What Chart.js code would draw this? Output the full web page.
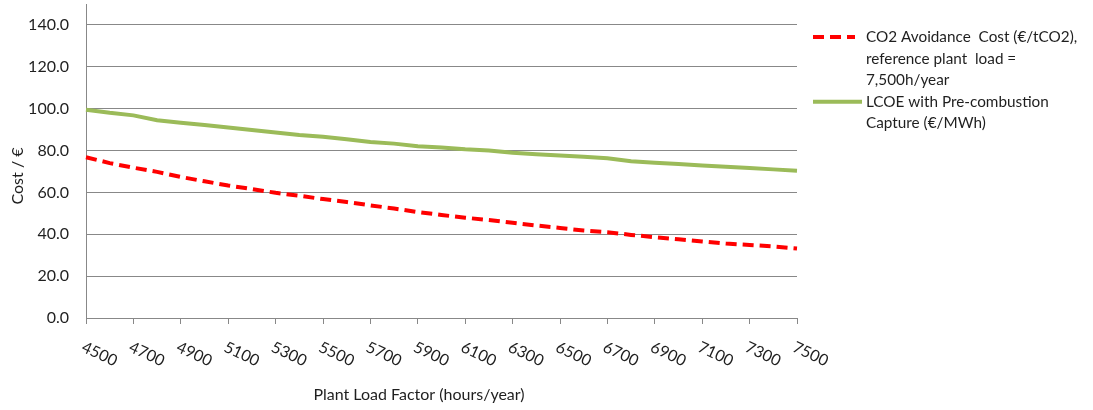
<!DOCTYPE html>
<html>
<head>
<meta charset="utf-8">
<script src="https://cdn.jsdelivr.net/npm/chart.js@4/dist/chart.umd.min.js"></script>
<style>
html,body{margin:0;padding:0;background:#fff;}
#wrap{width:1093px;height:410px;position:relative;}
</style>
</head>
<body>
<div id="wrap"><canvas id="c" width="1093" height="410"></canvas></div>
<script>
// Plant load factor (hours/year), every 100 h
const categories = [4500,4600,4700,4800,4900,5000,5100,5200,5300,5400,5500,5600,5700,5800,5900,6000,6100,6200,6300,6400,6500,6600,6700,6800,6900,7000,7100,7200,7300,7400,7500];
const co2AvoidanceCost = [76.8,74.0,71.8,69.8,67.4,65.3,63.3,61.6,59.8,58.4,56.8,55.4,53.8,52.3,50.6,49.2,47.9,46.8,45.5,44.2,43.0,41.8,41.0,39.7,38.6,37.6,36.6,35.6,34.9,34.2,33.2];
const lcoePreCombustion = [99.5,98.0,96.8,94.5,93.3,92.2,91.0,89.8,88.6,87.4,86.6,85.4,84.1,83.3,82.1,81.5,80.6,80.0,78.9,78.2,77.6,77.0,76.3,74.9,74.2,73.6,72.9,72.3,71.6,71.0,70.4];
const seriesNames = ["CO2 Avoidance  Cost (€/tCO2), reference plant  load = 7,500h/year", "LCOE with Pre-combustion Capture (€/MWh)"];
const legendLines = [["CO2 Avoidance  Cost (€/tCO2),", "reference plant  load =", "7,500h/year"], ["LCOE with Pre-combustion", "Capture (€/MWh)"]];
const yTickValues = [0,20,40,60,80,100,120,140];
const xTitle = "Plant Load Factor (hours/year)";
const yTitle = "Cost / €";

const FONT = "Lato, 'Open Sans', sans-serif";
const TXT = "#1f1f1f";
const GRID = "#888888";

const drawExtras = {
  id: 'drawExtras',
  afterDraw(chart) {
    const ctx = chart.ctx;
    const xs = chart.scales.x;
    ctx.save();
    ctx.fillStyle = TXT;
    ctx.font = "16px " + FONT;
    // rotated x tick labels
    categories.forEach((c, i) => {
      if (i % 2 !== 0) return;
      const x = xs.getPixelForValue(i);
      ctx.save();
      ctx.translate(x, 339);
      ctx.rotate(25 * Math.PI / 180);
      ctx.textAlign = 'left';
      ctx.textBaseline = 'top';
      ctx.fillText(String(c), 0, 0);
      ctx.restore();
    });
    // axis titles
    ctx.textAlign = 'center';
    ctx.textBaseline = 'middle';
    ctx.fillText(xTitle, 419, 395);
    ctx.save();
    ctx.translate(18, 176);
    ctx.rotate(-Math.PI / 2);
    ctx.fillText(yTitle, 0, 0);
    ctx.restore();
    // legend
    ctx.font = "15.3px " + FONT;
    const ds = chart.data.datasets;
    let y = 37;
    ds.forEach((d, k) => {
      ctx.save();
      ctx.strokeStyle = d.borderColor;
      ctx.lineWidth = 4;
      ctx.setLineDash(d.borderDash || []);
      ctx.beginPath();
      ctx.moveTo(813, y);
      ctx.lineTo(k === 0 ? 855 : 862, y);
      ctx.stroke();
      ctx.restore();
      ctx.textAlign = 'left';
      ctx.textBaseline = 'middle';
      legendLines[k].forEach((ln, j) => {
        ctx.fillText(ln, 866, y + j * 21.6);
      });
      y += legendLines[k].length * 21.6;
    });
    ctx.restore();
  }
};

new Chart(document.getElementById('c'), {
  type: 'line',
  data: {
    labels: categories,
    datasets: [
      {label: seriesNames[0], data: co2AvoidanceCost, borderColor: '#FF0000', borderWidth: 4, borderDash: [11, 6], pointRadius: 0, fill: false, tension: 0},
      {label: seriesNames[1], data: lcoePreCombustion, borderColor: '#9BBB59', borderWidth: 4, pointRadius: 0, fill: false, tension: 0}
    ]
  },
  options: {
    responsive: false,
    animation: false,
    events: [],
    layout: {padding: {left: 0, right: 296, top: 4, bottom: 0}},
    plugins: {legend: {display: false}, tooltip: {enabled: false}, title: {display: false}},
    scales: {
      x: {
        type: 'category',
        offset: false,
        grid: {
          drawOnChartArea: false,
          drawTicks: true,
          tickLength: 6,
          color: (c) => (c.index % 2 === 0 ? GRID : 'rgba(0,0,0,0)'),
          lineWidth: 1
        },
        border: {color: GRID, width: 1},
        ticks: {display: false, autoSkip: false},
        afterFit: (s) => { s.height = 92; s.paddingLeft = 0; s.paddingRight = 0; }
      },
      y: {
        min: 0,
        max: 150,
        afterBuildTicks: (s) => { s.ticks = yTickValues.map(v => ({value: v})); },
        grid: {color: GRID, lineWidth: 1, drawTicks: false},
        border: {color: GRID, width: 1},
        ticks: {
          padding: 17,
          color: TXT,
          font: {family: FONT, size: 16},
          callback: (v) => Number(v).toFixed(1)
        },
        afterFit: (s) => { s.width = 86; s.paddingTop = 0; s.paddingBottom = 0; }
      }
    }
  },
  plugins: [drawExtras]
});
</script>
</body>
</html>
